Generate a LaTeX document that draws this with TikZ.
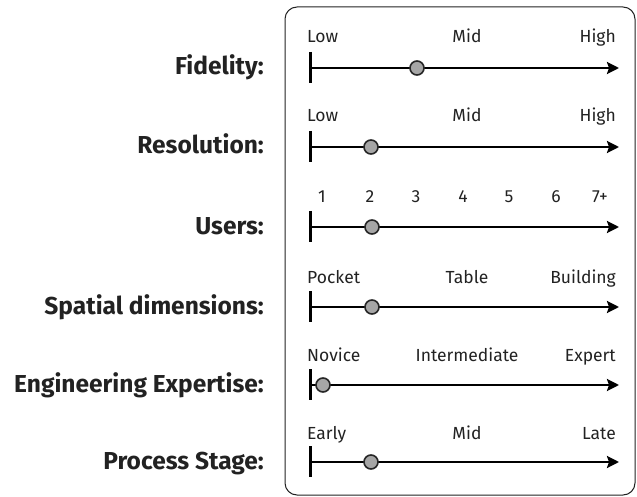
\documentclass[tikz,border=0pt]{standalone}
\usepackage{fontspec}
\setmainfont{Fira Sans}
\usetikzlibrary{arrows.meta}
\definecolor{txt}{HTML}{222222}
\definecolor{dotfill}{HTML}{A6A6A6}
\tikzset{
  frame/.style={draw=txt, line width=1pt, rounded corners=12pt},
  axisline/.style={line width=2.4pt, -{Stealth[length=12pt,width=12pt,inset=2pt]}},
  tickline/.style={line width=3pt},
  marker/.style={circle, draw=black!85, line width=1.6pt, fill=dotfill, minimum size=14pt, inner sep=0pt},
  cat/.style={font=\bfseries\fontsize{24.5}{26}\selectfont, text=txt, anchor=base east, inner sep=0pt},
  lvl/.style={font=\fontsize{17.5}{19}\selectfont, text=txt, anchor=base, inner sep=0pt},
}
\begin{document}
\begin{tikzpicture}[x=1pt,y=-1pt]
\useasboundingbox (0,0) rectangle (637,497);
\draw[frame] (285,7) rectangle (635,495);
\foreach \i/\y/\d/\name in {1/68/417/Fidelity:,2/147/371/Resolution:,3/227/372/Users:,4/307/372/Spatial dimensions:,5/385/323/Engineering Expertise:,6/462/371/Process Stage:}{
  \coordinate (s\i) at (310,\y);
  \coordinate (e\i) at (619,\y);
  \coordinate (t\i a) at (310,\y-16);
  \coordinate (t\i b) at (310,\y+15);
  \draw[tickline] (t\i a) -- (t\i b);
  \draw[axisline] (s\i) -- (e\i);
  \node[marker] (m\i) at (\d,\y) {};
  \node[cat] (c\i) at (264,\y+7) {\name};
}
% level labels
\foreach \i/\y/\a/\b/\c in {1/43/Low/Mid/High,2/122/Low/Mid/High,4/283/Pocket/Table/Building,5/361/Novice/Intermediate/Expert,6/439/Early/Mid/Late}{
  \node[lvl, anchor=base west] (l\i a) at (307,\y) {\a};
  \node[lvl] (l\i b) at (467,\y) {\b};
  \node[lvl, anchor=base east] (l\i c) at (616,\y) {\c};
}
\foreach \k/\n/\x in {1/1/322,2/2/370,3/3/416,4/4/463,5/5/509,6/6/556,7/7+/600}{
  \node[lvl] (u\k) at (\x,203) {\n};
}
\end{tikzpicture}
\end{document}
